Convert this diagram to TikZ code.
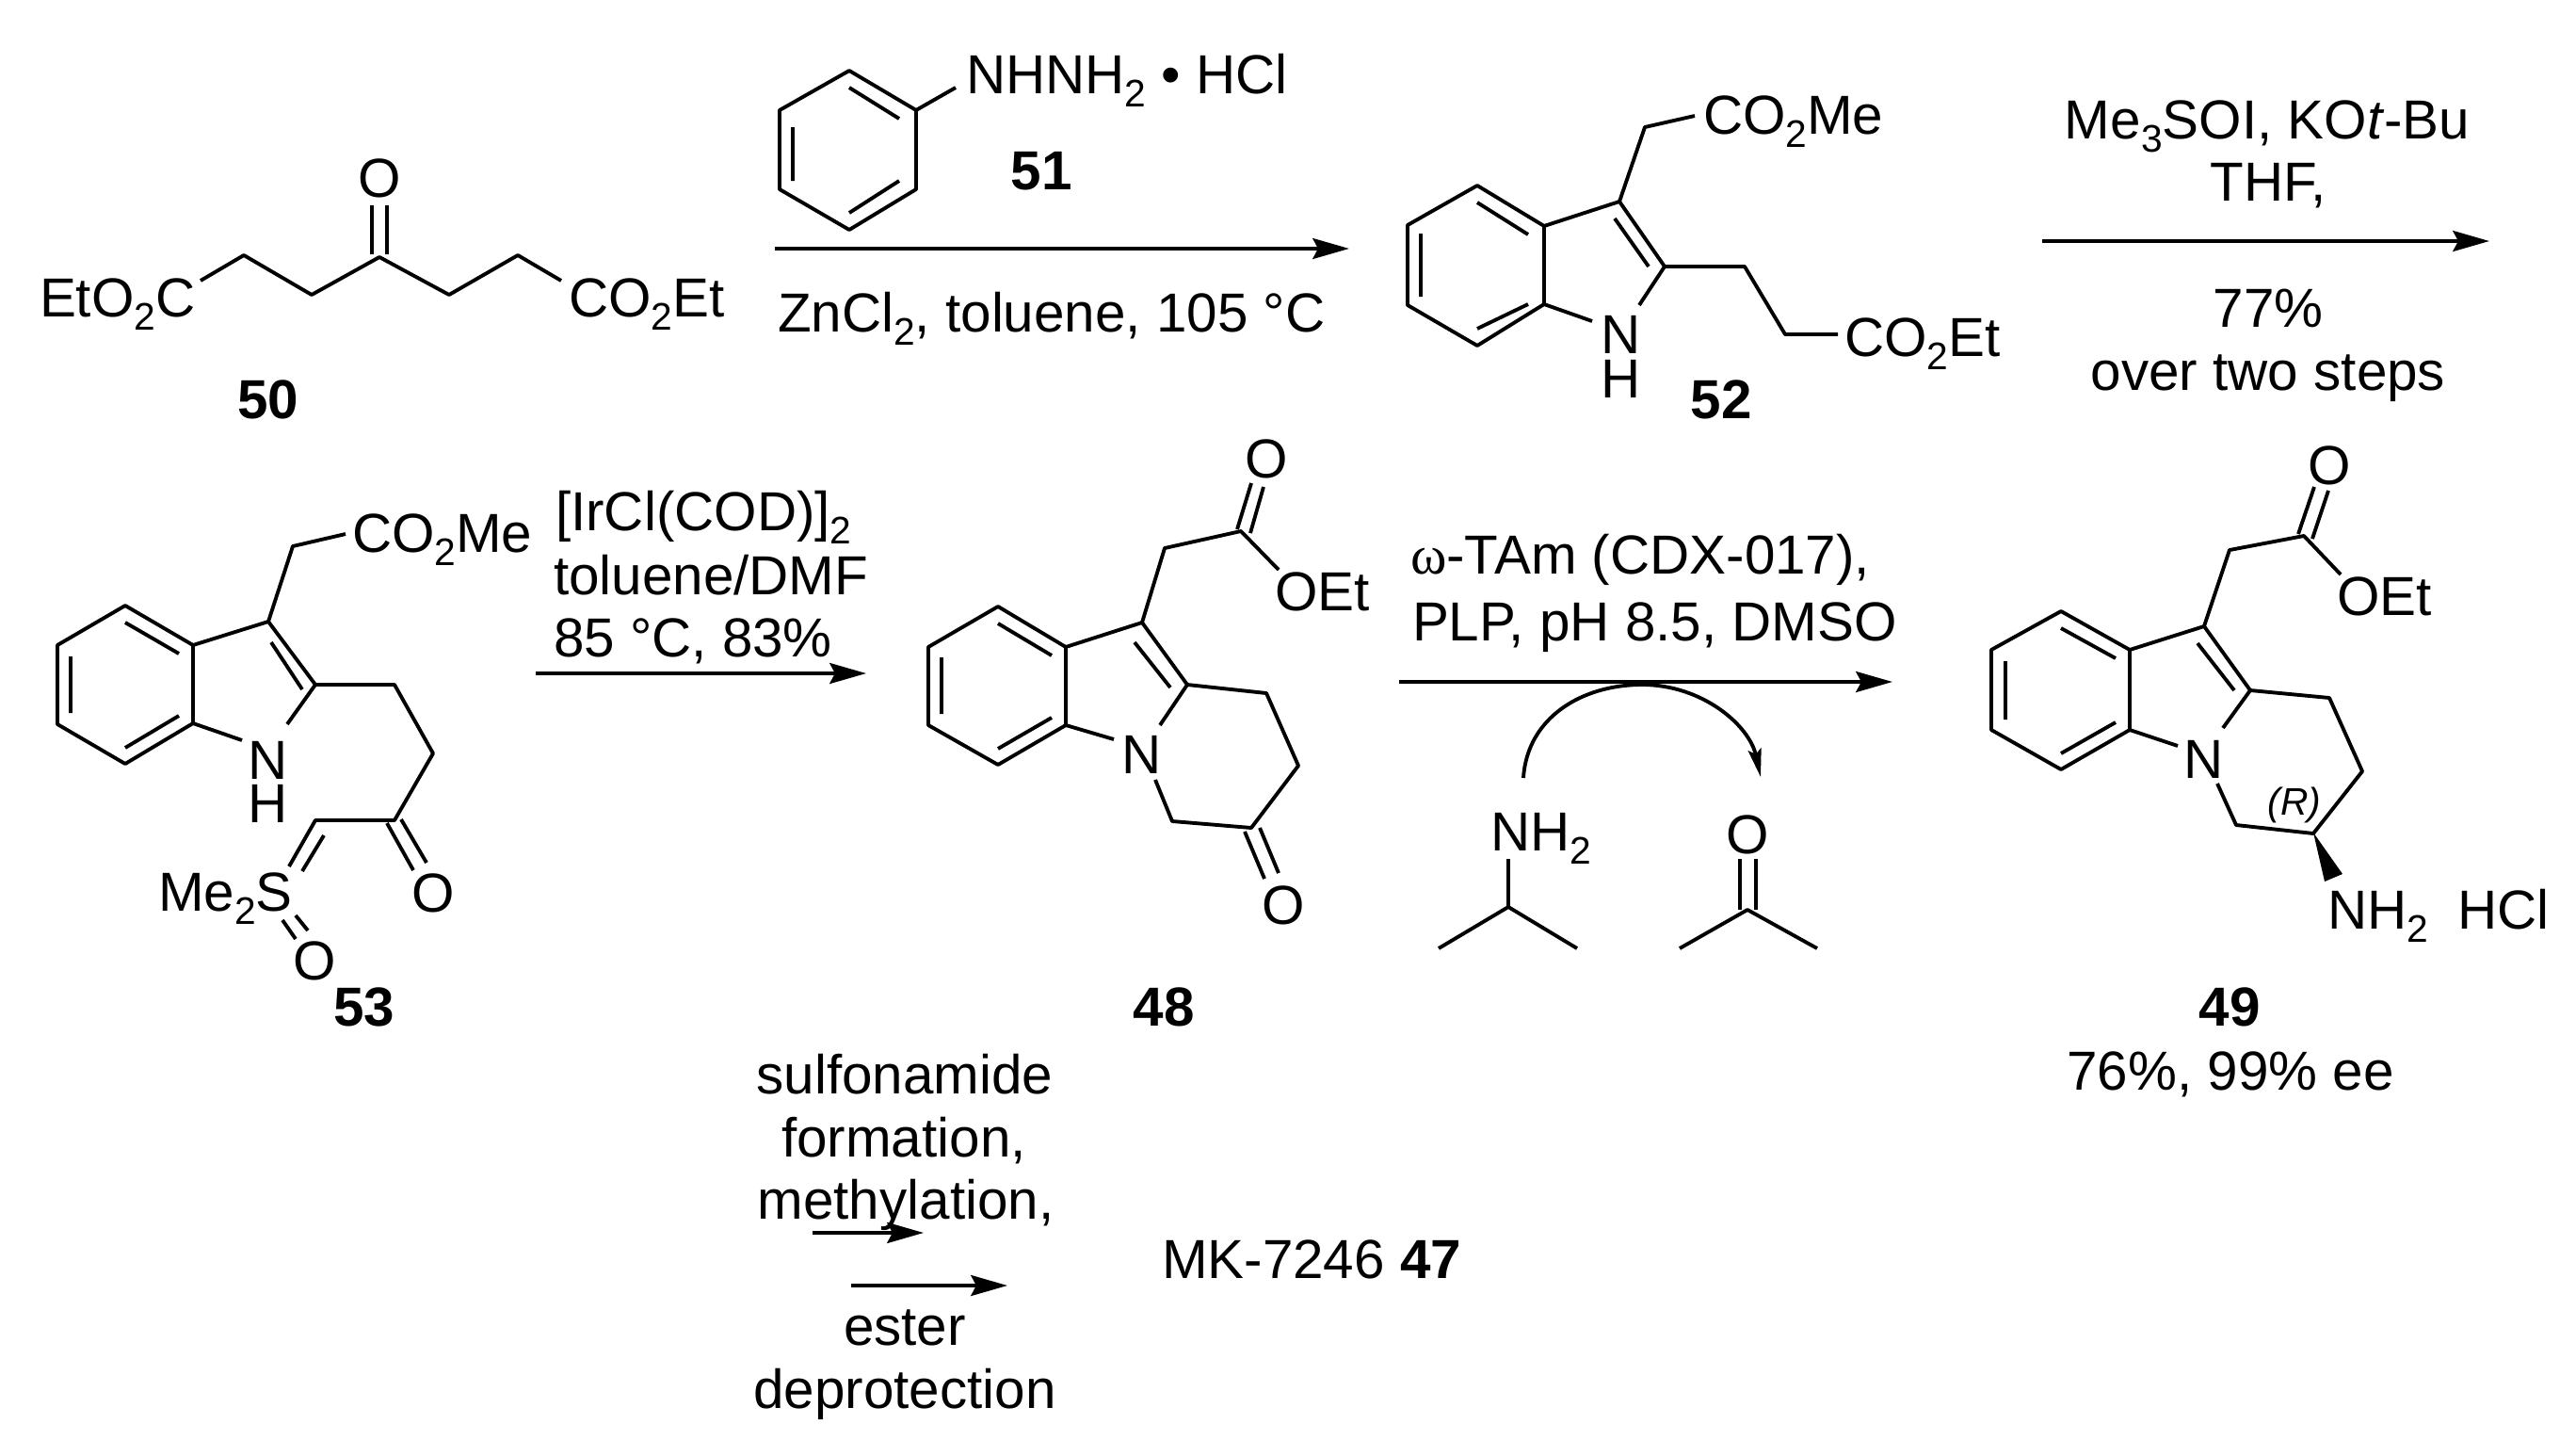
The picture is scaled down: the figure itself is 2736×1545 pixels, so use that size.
\documentclass[tikz,border=0pt]{standalone}
\usepackage{fontspec}
\setmainfont{Liberation Sans}
\newfontfamily\serifw{Liberation Serif}
\usetikzlibrary{arrows.meta}
\newcommand{\ssb}[1]{\raisebox{-0.25em}{\fontsize{11.6pt}{12pt}\selectfont #1}}
\tikzset{
  txt/.style={inner sep=0pt,outer sep=0pt,text=black,font=\fontsize{16.6pt}{18pt}\selectfont},
  lab/.style={txt,anchor=base},
  labw/.style={txt,anchor=base west},
  cmpd/.style={txt,anchor=base,font=\fontsize{16.6pt}{18pt}\selectfont\bfseries},
  bond/.style={line width=1.1pt,line join=round,draw=black},
  rxn/.style={line width=1.25pt,draw=black,-{Stealth[length=11pt,width=6.2pt,inset=1.6pt]}},
}
\begin{document}
\begin{tikzpicture}[x=0.01cm,y=-0.01cm]
\fill[white] (0,0) rectangle (2736,1545);
\useasboundingbox (0,0) rectangle (2736,1545);
% ---------- 50
\draw[bond] (213,298)--(259,271)--(331,313)--(403,273)--(477,313)--(550,271)--(596,298);
\draw[bond] (395,270)--(395,218) (411,270)--(411,218);
\node[lab] (o50) at (403,209) {O};
\node[labw] (e50a) at (42,336) {EtO\ssb{2}C};
\node[labw] (e50b) at (604,336) {CO\ssb{2}Et};
\node[cmpd] (c50) at (285,444) {50};
% ---------- 51
\draw[bond] (902,75)--(973,117)--(973,201)--(902,244)--(828,201)--(828,117)--cycle;
\draw[bond] (902,93)--(955,126) (955,192)--(902,226) (842,135)--(842,192);
\draw[bond] (973,117)--(1015,93);
\node[labw] (r51) at (1026,99) {NHNH\ssb{2} • HCl};
\node[cmpd] (c51) at (1106,201) {51};
\coordinate (a1s) at (823,264); \coordinate (a1e) at (1433,264);
\draw[rxn] (a1s)--(a1e);
\node[labw] (t1) at (826,352) {ZnCl\ssb{2}, toluene, 105 °C};
% ---------- 52
\draw[bond] (1569,197)--(1640,240)--(1640,323)--(1569,367)--(1495,324)--(1495,239)--cycle;
\draw[bond] (1569,215)--(1623,249) (1623,323)--(1569,349) (1509,248)--(1509,315);
\draw[bond] (1640,240)--(1720,214)--(1768,283)--(1741,324);
\draw[bond] (1640,323)--(1691,341);
\draw[bond] (1715,232)--(1751,283);
\draw[bond] (1720,214)--(1747,135)--(1800,123);
\draw[bond] (1768,283)--(1853,283)--(1896,355)--(1952,355);
\node[lab] (n52) at (1722,375) {N};
\node[lab] (h52) at (1722,422) {H};
\node[labw] (e52a) at (1809,142) {CO\ssb{2}Me};
\node[labw] (e52b) at (1959,378) {CO\ssb{2}Et};
\node[cmpd] (c52) at (1828,444) {52};
\coordinate (a2s) at (2169,256); \coordinate (a2e) at (2644,256);
\draw[rxn] (a2s)--(a2e);
\node[lab] (t2a) at (2408,147) {Me\ssb{3}SOI, KO\textit{t}-Bu};
\node[lab] (t2b) at (2409,213) {THF,};
\node[lab] (t2c) at (2409,347) {77\%};
\node[lab] (t2d) at (2409,414) {over two steps};
% ---------- 53
\draw[bond] (133,643)--(205,685)--(205,768)--(133,811)--(61,769)--(61,685)--cycle;
\draw[bond] (133,661)--(190,694) (190,760)--(133,794) (75,697)--(75,757);
\draw[bond] (205,685)--(285,660)--(335,727)--(305,769);
\draw[bond] (205,768)--(257,786);
\draw[bond] (288,682)--(321,732);
\draw[bond] (285,660)--(311,580)--(367,567);
\draw[bond] (335,727)--(419,727)--(460,800)--(419,871)--(335,871)--(307,920);
\draw[bond] (344,887)--(321,925);
\draw[bond] (411,874)--(439,924) (426,870)--(453,916);
\draw[bond] (300,977)--(314,997) (314,972)--(327,988);
\node[lab] (n53) at (285,827) {N};
\node[lab] (h53) at (285,873) {H};
\node[labw] (e53) at (374,586) {CO\ssb{2}Me};
\node[labw] (s53) at (168,967) {Me\ssb{2}S};
\node[lab] (o53a) at (460,968) {O};
\node[lab] (o53b) at (334,1040) {O};
\node[cmpd] (c53) at (387,1089) {53};
\coordinate (a3s) at (569,715); \coordinate (a3e) at (920,715);
\draw[rxn] (a3s)--(a3e);
\node[labw] (t3a) at (590,563) {[IrCl(COD)]\ssb{2}};
\node[labw] (t3b) at (588,631) {toluene/DMF};
\node[labw] (t3c) at (588,697) {85 °C, 83\%};
% ---------- 48
\draw[bond] (1060,644)--(1132,687)--(1132,770)--(1060,812)--(986,770)--(986,687)--cycle;
\draw[bond] (1060,662)--(1117,696) (1117,762)--(1060,795) (1000,698)--(1000,758);
\draw[bond] (1132,687)--(1213,661)--(1261,727)--(1232,770);
\draw[bond] (1132,770)--(1183,785);
\draw[bond] (1205,682)--(1243,730);
\draw[bond] (1261,727)--(1345,736)--(1379,813)--(1329,879)--(1245,872)--(1227,828);
\draw[bond] (1322,883)--(1343,933) (1338,879)--(1358,927);
\draw[bond] (1213,661)--(1237,582)--(1318,564)--(1358,605);
\draw[bond] (1314,562)--(1329,513) (1328,566)--(1342,517);
\node[lab] (n48) at (1213,821) {N};
\node[lab] (o48a) at (1345,507) {O};
\node[labw] (e48) at (1354,648) {OEt};
\node[lab] (o48b) at (1363,981) {O};
\node[cmpd] (c48) at (1236,1089) {48};
\coordinate (a4s) at (1486,724); \coordinate (a4e) at (2010,724);
\draw[rxn] (a4s)--(a4e);
\node[labw] (t4a) at (1498,609) {{\serifw ω}-TAm (CDX-017),};
\node[labw] (t4b) at (1500,680) {PLP, pH 8.5, DMSO};
\coordinate (cvs) at (1618,826); \coordinate (cvt) at (1744,727); \coordinate (cve) at (1870,825);
\draw[line width=1.1pt,draw=black,-{Stealth[length=8.5pt,width=4pt,inset=1.5pt]}]
  (cvs) .. controls (1622,762) and (1680,727) .. (cvt) .. controls (1808,727) and (1858,770) .. (cve);
\node[labw] (nh2i) at (1583,903) {NH\ssb{2}};
\draw[bond] (1602,912)--(1602,963) (1528,1007)--(1602,963)--(1675,1007);
\node[lab] (oac) at (1856,906) {O};
\draw[bond] (1848,912)--(1848,966) (1865,912)--(1865,966);
\draw[bond] (1784,1007)--(1856,966)--(1930,1007);
% ---------- 49
\draw[bond] (2189,649)--(2262,690)--(2262,775)--(2189,817)--(2115,775)--(2115,690)--cycle;
\draw[bond] (2189,667)--(2247,699) (2247,767)--(2189,800) (2130,702)--(2130,764);
\draw[bond] (2262,690)--(2341,665)--(2390,733)--(2361,773);
\draw[bond] (2262,775)--(2313,792);
\draw[bond] (2334,683)--(2373,733);
\draw[bond] (2390,733)--(2474,741)--(2509,819)--(2457,885)--(2375,876)--(2355,832);
\draw[bond] (2341,665)--(2368,584)--(2447,569)--(2486,610);
\draw[bond] (2441,567)--(2458,517) (2456,572)--(2473,521);
\fill[black] (2457,884)--(2469,936)--(2488,928)--cycle;
\node[lab] (n49) at (2341,826) {N};
\node[lab] (o49) at (2474,514) {O};
\node[labw] (e49) at (2482,653) {OEt};
\node[labw] (nh49) at (2472,986) {NH\ssb{2}};
\node[labw] (hcl49) at (2610,986) {HCl};
\node[lab,font=\fontsize{11.6pt}{13pt}\selectfont\itshape] (r49) at (2437,865) {(R)};
\node[cmpd] (c49) at (2368,1089) {49};
\node[lab] (y49) at (2369,1157) {76\%, 99\% ee};
% ---------- bottom
\node[lab] (b1) at (961,1161) {sulfonamide};
\node[lab] (b2) at (960,1228) {formation,};
\node[lab] (b3) at (962,1294) {methylation,};
\node[lab] (b4) at (961,1428) {ester};
\node[lab] (b5) at (961,1495) {deprotection};
\coordinate (a5s) at (863,1309); \coordinate (a5e) at (981,1309);
\coordinate (a6s) at (904,1365); \coordinate (a6e) at (1070,1365);
\draw[rxn] (a5s)--(a5e);
\draw[rxn] (a6s)--(a6e);
\node[labw] (mk) at (1234,1357) {MK-7246 \textbf{47}};
\end{tikzpicture}
\end{document}
